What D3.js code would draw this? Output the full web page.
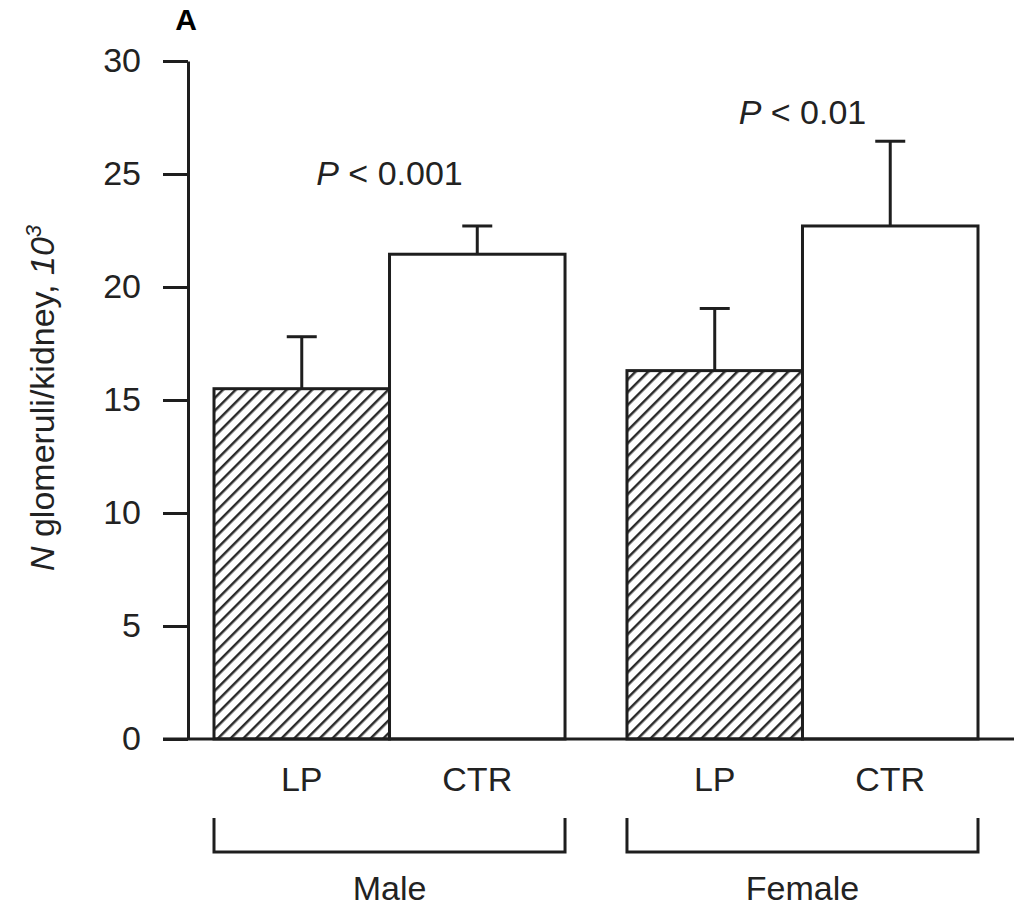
<!DOCTYPE html>
<html>
<head>
<meta charset="utf-8">
<script src="https://cdn.jsdelivr.net/npm/d3@7"></script>
<style>
  body { margin: 0; background: #fff; }
  svg { display: block; font-family: "Liberation Sans", Arial, sans-serif; }
</style>
</head>
<body>
<div id="chart"></div>
<script>
// values
const groups = ["Male", "Female"];
const treatments = ["LP", "CTR"];
const means = [[15.5, 21.45], [16.3, 22.7]];
const errors = [[2.3, 1.25], [2.75, 3.75]];
const yTicks = [0, 5, 10, 15, 20, 25, 30];
const pLabels = ["< 0.001", "< 0.01"];
const pLabelY = [24.5, 27.2];

const width = 1014, height = 910;
const ink = "#1e1e1e";

const svg = d3.select("#chart").append("svg")
  .attr("width", width)
  .attr("height", height);

const defs = svg.append("defs");
const pat = defs.append("pattern")
  .attr("id", "hatch")
  .attr("patternUnits", "userSpaceOnUse")
  .attr("width", 9)
  .attr("height", 9)
  .attr("patternTransform", "rotate(45)");
pat.append("rect").attr("width", 9).attr("height", 9).attr("fill", "#fff");
pat.append("line")
  .attr("x1", 0).attr("y1", 0).attr("x2", 0).attr("y2", 9)
  .attr("stroke", "#2a2a2a").attr("stroke-width", 5);

const y = d3.scaleLinear().domain([0, 30]).range([739, 61]);
const x0 = d3.scaleBand().domain(groups).range([214, 978]).paddingInner(0.15);
const x1 = d3.scaleBand().domain(treatments).range([0, x0.bandwidth()]);

// y axis
const yAxis = svg.append("g")
  .attr("transform", "translate(188,0)")
  .call(d3.axisLeft(y).tickValues(yTicks).tickSize(25).tickSizeOuter(0).tickPadding(22));
yAxis.select(".domain").attr("stroke", ink).attr("stroke-width", 3);
yAxis.selectAll(".tick line").attr("stroke", ink).attr("stroke-width", 3);
yAxis.selectAll(".tick text")
  .attr("fill", "#222")
  .style("font-size", "34px")
  .style("font-family", "'Liberation Sans', Arial, sans-serif");

// bars
const bars = [];
groups.forEach((g, gi) => {
  treatments.forEach((t, ti) => {
    bars.push({ group: g, treat: t, mean: means[gi][ti], err: errors[gi][ti] });
  });
});

const cx = d => x0(d.group) + x1(d.treat) + x1.bandwidth() / 2;

const barG = svg.append("g");
barG.selectAll("line.err")
  .data(bars)
  .enter().append("line")
  .attr("class", "err")
  .attr("x1", cx).attr("x2", cx)
  .attr("y1", d => y(d.mean))
  .attr("y2", d => y(d.mean + d.err))
  .attr("stroke", ink).attr("stroke-width", 3);
barG.selectAll("line.cap")
  .data(bars)
  .enter().append("line")
  .attr("class", "cap")
  .attr("x1", d => cx(d) - 15)
  .attr("x2", d => cx(d) + 15)
  .attr("y1", d => y(d.mean + d.err))
  .attr("y2", d => y(d.mean + d.err))
  .attr("stroke", ink).attr("stroke-width", 3);
barG.selectAll("rect")
  .data(bars)
  .enter().append("rect")
  .attr("x", d => x0(d.group) + x1(d.treat))
  .attr("y", d => y(d.mean))
  .attr("width", x1.bandwidth())
  .attr("height", d => y(0) - y(d.mean))
  .attr("fill", d => d.treat === "LP" ? "url(#hatch)" : "#fff")
  .attr("stroke", ink).attr("stroke-width", 3);

// baseline
svg.append("line")
  .attr("x1", 163).attr("x2", width)
  .attr("y1", y(0)).attr("y2", y(0))
  .attr("stroke", ink).attr("stroke-width", 3);

// treatment labels
svg.append("g").selectAll("text")
  .data(bars)
  .enter().append("text")
  .attr("x", cx)
  .attr("y", 791)
  .attr("text-anchor", "middle")
  .attr("fill", "#222")
  .style("font-size", "34px")
  .text(d => d.treat);

// brackets and group labels
const br = svg.append("g");
br.selectAll("path")
  .data(groups)
  .enter().append("path")
  .attr("d", g => `M${x0(g)},818 V852 H${x0(g) + x0.bandwidth()} V818`)
  .attr("fill", "none")
  .attr("stroke", ink).attr("stroke-width", 3);
br.selectAll("text")
  .data(groups)
  .enter().append("text")
  .attr("x", g => x0(g) + x0.bandwidth() / 2)
  .attr("y", 900)
  .attr("text-anchor", "middle")
  .attr("fill", "#222")
  .style("font-size", "34px")
  .text(g => g);

// P values
const pt = svg.append("g").selectAll("text")
  .data(groups)
  .enter().append("text")
  .attr("x", g => x0(g) + x0.bandwidth() / 2)
  .attr("y", (g, i) => y(pLabelY[i]))
  .attr("text-anchor", "middle")
  .attr("fill", "#222")
  .style("font-size", "34px");
pt.append("tspan").style("font-style", "italic").text("P");
pt.append("tspan").text((g, i) => " " + pLabels[i]);

// y label
const yl = svg.append("text")
  .attr("transform", "translate(54,398) rotate(-90)")
  .attr("text-anchor", "middle")
  .attr("fill", "#222")
  .style("font-size", "34px")
  .style("font-style", "italic");
yl.append("tspan").text("N");
yl.append("tspan").style("font-style", "normal").text(" glomeruli/kidney, ");
yl.append("tspan").text("10");
yl.append("tspan").attr("dy", -13).style("font-size", "22px").text("3");

// panel letter
svg.append("text")
  .attr("x", 186).attr("y", 30)
  .attr("text-anchor", "middle")
  .style("font-size", "30px")
  .style("font-weight", "bold")
  .text("A");
</script>
</body>
</html>
